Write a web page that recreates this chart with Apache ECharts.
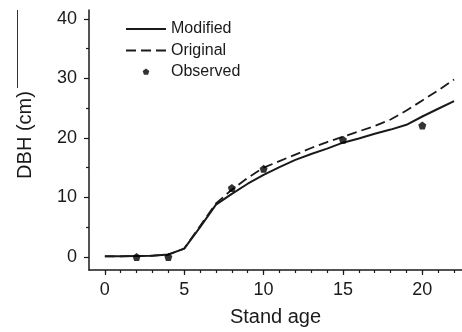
<!DOCTYPE html>
<html>
<head>
<meta charset="utf-8">
<script src="https://cdn.jsdelivr.net/npm/echarts@6/dist/echarts.min.js"></script>
<style>
  html, body { margin: 0; padding: 0; background: #fff; }
  #chart { width: 462px; height: 332px; }
</style>
</head>
<body>
<div id="chart"></div>
<script>
// stand age (years)
const ages = [0, 1, 2, 3, 4, 5, 6, 7, 8, 9, 10, 11, 12, 13, 14, 15, 16, 17, 18, 19, 20, 21, 22]
// DBH (cm)
const modified = [0.1, 0.1, 0.15, 0.2, 0.4, 1.4, 5.0, 8.8, 10.6, 12.3, 13.8, 15.1, 16.3, 17.3, 18.2, 19.2, 19.9, 20.7, 21.4, 22.2, 23.6, 24.9, 26.2]
const original = [0.1, 0.1, 0.15, 0.2, 0.4, 1.4, 5.2, 9.0, 11.3, 13.3, 15.0, 16.1, 17.2, 18.3, 19.3, 20.2, 21.1, 22.0, 23.1, 24.6, 26.3, 28.0, 29.8]
const observedAge = [2, 4, 8, 10, 15, 20]
const observedDbh = [0, 0, 11.6, 14.8, 19.7, 22.1]

const xMajor = [0, 5, 10, 15, 20]
const xMinor = [0, 1, 2, 3, 4, 5, 6, 7, 8, 9, 10, 11, 12, 13, 14, 15, 16, 17, 18, 19, 20, 21, 22]
const yMajor = [0, 10, 20, 30, 40]
const yMinor = [5, 15, 25, 35]

const ink = '#1a1a1a'
const font = '"Liberation Sans", Arial, sans-serif'
const pentagon = 'path://M0,-10 L9.5,-3.1 L5.9,8.1 L-5.9,8.1 L-9.5,-3.1 Z'

const toPairs = (xs, ys) => xs.map((x, i) => [x, ys[i]])

const myChart = echarts.init(document.getElementById('chart'))

const option = {
  animation: false,
  textStyle: { fontFamily: font, color: ink },
  grid: {
    left: 89,
    right: 0,
    top: 10,
    bottom: 62
  },
  legend: {
    orient: 'vertical',
    left: 126,
    top: 21,
    padding: 0,
    itemWidth: 40,
    itemHeight: 14,
    itemGap: 5.5,
    textStyle: { fontSize: 16, color: ink, lineHeight: 16, fontFamily: font },
    data: [
      // plain line icons (no marker), drawn as thin bars
      { name: 'Modified', icon: 'path://M0,0 L40,0 L40,2 L0,2 Z', itemStyle: { color: ink } },
      { name: 'Original', icon: 'path://M0,0 h10 v1.8 h-10 Z M15,0 h10 v1.8 h-10 Z M30,0 h10 v1.8 h-10 Z', itemStyle: { color: ink } },
      // extra move points keep the little marker small inside the legend box
      { name: 'Observed', icon: 'path://M-20,-20 M20,20 M0,-10 L9.5,-3.1 L5.9,8.1 L-5.9,8.1 L-9.5,-3.1 Z' }
    ]
  },
  xAxis: [
    {
      type: 'value',
      min: -1,
      max: 22.5,
      position: 'bottom',
      name: 'Stand age',
      nameLocation: 'middle',
      nameGap: 37,
      nameTextStyle: { fontSize: 20, color: ink, fontFamily: font },
      splitLine: { show: false },
      axisLine: { show: true, onZero: false, lineStyle: { color: ink, width: 1.5 } },
      axisTick: { show: true, length: 5, customValues: xMajor, lineStyle: { color: ink, width: 1.2 } },
      axisLabel: { fontSize: 18, color: ink, margin: 11, customValues: xMajor }
    },
    {
      type: 'value',
      min: -1,
      max: 22.5,
      position: 'bottom',
      offset: 0,
      splitLine: { show: false },
      axisLine: { show: false, onZero: false },
      axisTick: { show: true, length: 3, customValues: xMinor, lineStyle: { color: ink, width: 1.2 } },
      axisLabel: { show: false }
    }
  ],
  yAxis: [
    {
      type: 'value',
      min: -2.2,
      max: 41.5,
      position: 'left',
      name: 'DBH (cm)',
      nameLocation: 'middle',
      nameGap: 54,
      nameTextStyle: { fontSize: 20, color: ink, fontFamily: font, padding: [0, 0, 0, 10] },
      splitLine: { show: false },
      axisLine: { show: true, onZero: false, lineStyle: { color: ink, width: 1.5 } },
      axisTick: { show: true, length: 5, customValues: yMajor, lineStyle: { color: ink, width: 1.2 } },
      axisLabel: { fontSize: 18, color: ink, margin: 12, customValues: yMajor }
    },
    {
      type: 'value',
      min: -2.2,
      max: 41.5,
      position: 'left',
      offset: 0,
      splitLine: { show: false },
      axisLine: { show: false, onZero: false },
      axisTick: { show: true, length: 3, customValues: yMinor, lineStyle: { color: ink, width: 1.2 } },
      axisLabel: { show: false }
    }
  ],
  graphic: [
    {
      type: 'line',
      shape: { x1: 17.5, y1: 10, x2: 17.5, y2: 88 },
      style: { stroke: '#333', lineWidth: 1 }
    }
  ],
  series: [
    {
      name: 'Modified',
      type: 'line',
      symbol: 'none',
      lineStyle: { color: ink, width: 2 },
      itemStyle: { color: ink },
      z: 3,
      data: toPairs(ages, modified)
    },
    {
      name: 'Original',
      type: 'line',
      symbol: 'none',
      lineStyle: { color: ink, width: 1.8, type: [10, 5] },
      itemStyle: { color: ink },
      z: 2,
      data: toPairs(ages, original)
    },
    {
      name: 'Observed',
      type: 'scatter',
      symbol: pentagon,
      symbolSize: [8, 8],
      itemStyle: { color: '#000' },
      z: 4,
      data: toPairs(observedAge, observedDbh)
    }
  ]
}

myChart.setOption(option)
</script>
</body>
</html>
